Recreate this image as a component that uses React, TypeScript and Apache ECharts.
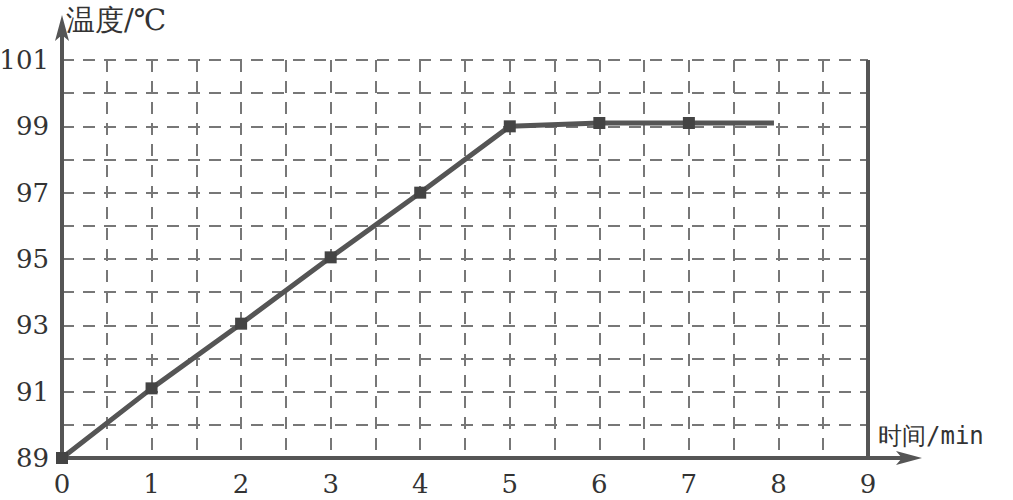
import React, { useEffect, useRef } from "react";
import * as echarts from "echarts";

const minutes = [0, 1, 2, 3, 4, 5, 6, 7, 7.95];
const temps = [89, 91.1, 93.05, 95.05, 97, 99, 99.1, 99.1, 99.1];
const markerShown = [true, true, true, true, true, true, true, true, false];
const xTicks = [0, 1, 2, 3, 4, 5, 6, 7, 8, 9];
const yTicks = [89, 91, 93, 95, 97, 99, 101];
const yName = "温度/℃";
const xName = "时间/min";

const SERIF = "DejaVu Serif";
const MONO = "DejaVu Sans Mono";

export default function App() {
  const ref = useRef<HTMLDivElement>(null);
  useEffect(() => {
    if (!ref.current) return;
    const chart = echarts.init(ref.current, undefined, { renderer: "svg" });
    const data = minutes.map((m, i) => ({
      value: [m, temps[i]],
      symbol: markerShown[i] ? "rect" : "none",
    }));
    const option: any = {
      animation: false,
      backgroundColor: "#ffffff",
      grid: {
        left: 62,
        right: 145,
        top: 60,
        bottom: 42,
        containLabel: false,
        outerBoundsMode: "none",
      },
      xAxis: {
        type: "value",
        min: 0,
        max: 9,
        interval: 0.5,
        name: xName,
        nameLocation: "end",
        nameGap: 10,
        nameTextStyle: {
          fontFamily: MONO,
          fontSize: 24,
          color: "#333",
          verticalAlign: "bottom",
          padding: [0, 0, 10, 0],
        },
        axisLine: { show: true, lineStyle: { color: "#555", width: 4 } },
        axisTick: { show: false },
        axisLabel: {
          fontFamily: SERIF,
          fontSize: 26,
          color: "#333",
          margin: 13,
          formatter: (v: number) => (xTicks.includes(v) ? String(v) : ""),
        },
        splitLine: {
          show: true,
          lineStyle: { color: "#777", width: 2, type: [12, 9] },
        },
      },
      yAxis: {
        type: "value",
        min: 89,
        max: 101,
        interval: 1,
        name: yName,
        nameLocation: "end",
        nameGap: 26,
        nameTextStyle: {
          fontFamily: SERIF,
          fontSize: 29,
          color: "#333",
          align: "left",
          padding: [0, 0, 0, 4],
        },
        axisLine: { show: true, lineStyle: { color: "#555", width: 4 } },
        axisTick: { show: false },
        axisLabel: {
          fontFamily: SERIF,
          fontSize: 26,
          color: "#333",
          margin: 13,
          formatter: (v: number) => (yTicks.includes(v) ? String(v) : ""),
        },
        splitLine: {
          show: true,
          lineStyle: { color: "#777", width: 2, type: [12, 9] },
        },
      },
      series: [
        {
          type: "line",
          data,
          symbolSize: 12,
          showSymbol: true,
          lineStyle: { color: "#555", width: 5 },
          itemStyle: { color: "#444" },
          markLine: {
            silent: true,
            symbol: "none",
            label: { show: false },
            lineStyle: { color: "#555", width: 4, type: "solid" },
            data: [[{ coord: [9, 89] }, { coord: [9, 101] }]],
          },
        },
      ],
    };
    chart.setOption(option);
    const o = chart.convertToPixel({ gridIndex: 0 }, [0, 89]) as number[];
    const xe = chart.convertToPixel({ gridIndex: 0 }, [9, 89]) as number[];
    const yt = chart.convertToPixel({ gridIndex: 0 }, [0, 101]) as number[];
    const yTip = yt[1] - 45;
    const xTip = xe[0] + 54;
    chart.setOption({
      graphic: [
        {
          type: "line",
          shape: { x1: o[0], y1: yt[1], x2: o[0], y2: yTip + 20 },
          style: { stroke: "#555", lineWidth: 4 },
        },
        {
          type: "polygon",
          shape: {
            points: [
              [o[0], yTip],
              [o[0] - 7, yTip + 26],
              [o[0], yTip + 20],
              [o[0] + 7, yTip + 26],
            ],
          },
          style: { fill: "#555" },
        },
        {
          type: "line",
          shape: { x1: xe[0], y1: o[1], x2: xTip - 20, y2: o[1] },
          style: { stroke: "#555", lineWidth: 4 },
        },
        {
          type: "polygon",
          shape: {
            points: [
              [xTip, o[1]],
              [xTip - 26, o[1] - 7],
              [xTip - 20, o[1]],
              [xTip - 26, o[1] + 7],
            ],
          },
          style: { fill: "#555" },
        },
      ],
    });
    return () => chart.dispose();
  }, []);
  return (
    <div
      ref={ref}
      style={{ position: "fixed", left: 0, top: 0, width: 1013, height: 500 }}
    />
  );
}
